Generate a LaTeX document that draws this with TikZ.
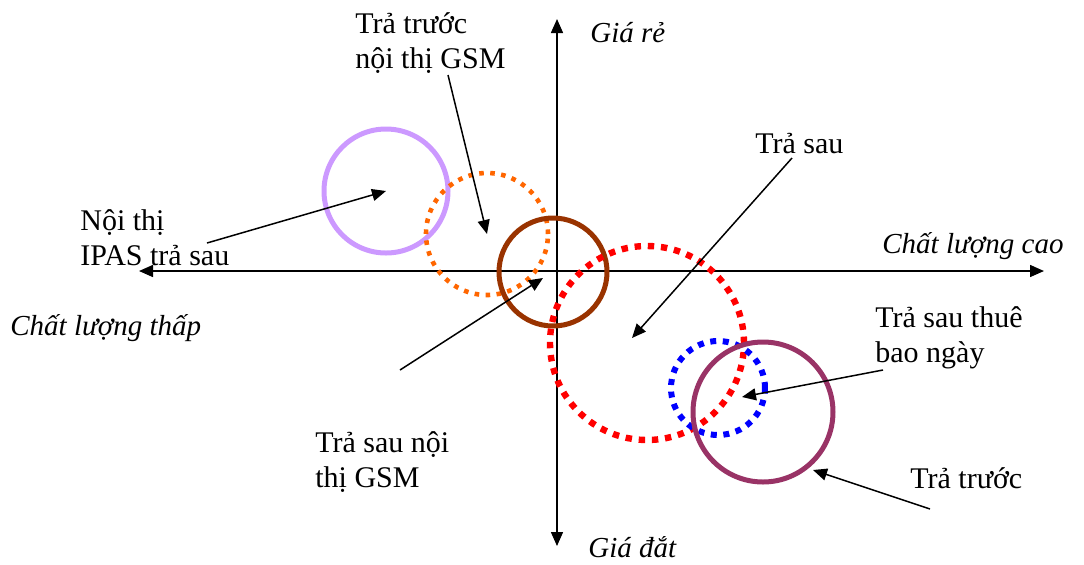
\documentclass[tikz,border=0pt]{standalone}
\usepackage{fontspec}
\setmainfont{Liberation Serif}
\usetikzlibrary{arrows.meta}
\definecolor{ringlilac}{RGB}{204,153,255}
\definecolor{ringorange}{RGB}{255,102,0}
\definecolor{ringbrown}{RGB}{153,51,0}
\definecolor{ringred}{RGB}{255,0,0}
\definecolor{ringblue}{RGB}{0,0,255}
\definecolor{ringplum}{RGB}{153,51,102}

\begin{document}
\begin{tikzpicture}[x=0.5pt, y=-0.5pt, >={Triangle[length=7pt,width=6pt]},
    lbl/.style={font=\fontsize{15}{17.5}\selectfont, inner sep=0pt, align=left, anchor=base west},
    axlbl/.style={lbl, font=\fontsize{14.5}{17.5}\selectfont\itshape},
    ring/.style={circle, draw, inner sep=0pt, minimum size=#1},
    ptr/.style={->, line width=0.75pt}]
    \useasboundingbox (0,0) rectangle (1084,564);
    % axes
    \coordinate (west) at (139,271);
    \coordinate (east) at (1044,271);
    \coordinate (north) at (557,19);
    \coordinate (south) at (557,546);
    \draw[<->, line width=0.75pt] (west) -- (east);
    \draw[<->, line width=0.75pt] (north) -- (south);
    \node[axlbl] (cheap) at (590,42) {Giá rẻ};
    \node[axlbl] (dear) at (588,557) {Giá đắt};
    \node[axlbl] (lowq) at (10,335) {Chất lượng thấp};
    \node[axlbl] (highq) at (882,253) {Chất lượng cao};
    % rings
    \node[ring=62pt, draw=ringlilac, line width=2.5pt] (ipas) at (386,191) {};
    \node[ring=61pt, draw=ringorange, line width=2.3pt, dash pattern=on 2.3pt off 3.2pt] (prepaidgsm) at (487,234) {};
    \node[ring=54pt, draw=ringbrown, line width=2.5pt] (postgsm) at (553,272) {};
    \node[ring=97pt, draw=ringred, line width=3.2pt, dash pattern=on 3.2pt off 3.4pt] (postpaid) at (647,343) {};
    \node[ring=47pt, draw=ringblue, line width=3pt, dash pattern=on 3pt off 3.3pt] (daily) at (718,388) {};
    \node[ring=70pt, draw=ringplum, line width=2.5pt] (prepaid) at (763,412) {};
    % labels (base = last line)
    \node[lbl] (tprepaidgsm) at (355,68) {Trả trước\\nội thị GSM};
    \node[lbl] (tipas) at (80,265) {Nội thị\\IPAS trả sau};
    \node[lbl] (tpostgsm) at (315,487) {Trả sau nội\\thị GSM};
    \node[lbl] (tpostpaid) at (755,153) {Trả sau};
    \node[lbl] (tdaily) at (875,362) {Trả sau thuê\\bao ngày};
    \node[lbl] (tprepaid) at (910,488) {Trả trước};
    % pointers
    \coordinate (a1) at (448,75);
    \coordinate (a2) at (207,243);
    \coordinate (a3) at (400,370);
    \coordinate (h3) at (543,278);
    \coordinate (a4) at (792,158);
    \coordinate (h4) at (632,338);
    \coordinate (a5) at (883,370);
    \coordinate (h5) at (742,397);
    \coordinate (a6) at (930,509);
    \coordinate (h6) at (813,470);
    \draw[ptr] (a1) -- (prepaidgsm.center);
    \draw[ptr] (a2) -- (ipas.center);
    \draw[ptr] (a3) -- (h3);
    \draw[ptr] (a4) -- (h4);
    \draw[ptr] (a5) -- (h5);
    \draw[ptr] (a6) -- (h6);
\end{tikzpicture}
\end{document}
